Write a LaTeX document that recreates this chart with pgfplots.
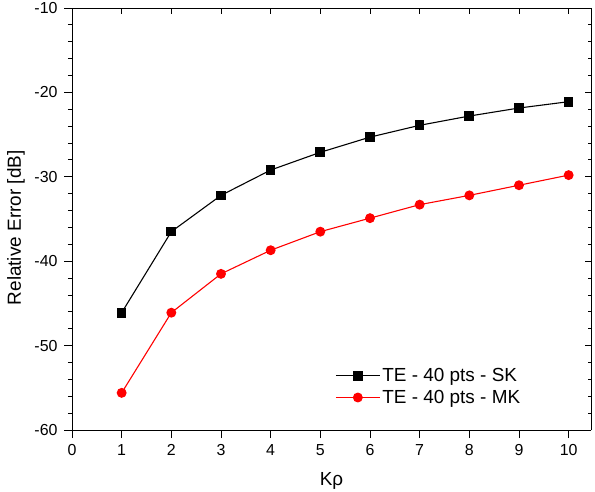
\documentclass[border=0pt]{standalone}
\usepackage{pgfplots}
\pgfplotsset{compat=1.18}
\usepackage{fontspec}
\setmainfont{Liberation Sans}
\pgfplotsset{
  common/.style={
    scale only axis,
    width=519bp, height=422bp,
    xmin=0, xmax=10.45, ymin=-60, ymax=-10,
    xtick={0,1,...,10}, ytick={-60,-50,...,-10},
    minor y tick num=4,
    major tick length=8bp, minor tick length=4bp,
    tick style={line width=0.9pt, black},
    axis line style={line width=0.9pt, -},
  }
}
\begin{document}
\begin{tikzpicture}
\begin{axis}[
  common,
  axis x line*=top, axis y line*=right,
  tick align=inside,
  xticklabels={}, yticklabels={},
  major tick length=6bp, minor tick length=3.5bp,
]
\end{axis}
\begin{axis}[
  common,
  axis x line*=bottom, axis y line*=left,
  tick align=outside,
  /pgf/number format/assume math mode=true,
  ticklabel style={font=\fontsize{16}{18}\selectfont},
  xticklabel style={yshift=-3bp},
  yticklabel style={xshift=-3bp},
  label style={font=\fontsize{19}{21}\selectfont},
  xlabel={Kρ}, ylabel={Relative Error [dB]},
  xlabel style={at={([yshift=-55bp]axis description cs:0.5,0)}, anchor=base},
  ylabel style={at={([xshift=-51bp]axis description cs:0,0.479)}, anchor=base},
  legend style={draw=none, fill=none, at={(0.505,0.052)}, anchor=south west, font=\fontsize{19}{21}\selectfont, row sep=3bp, inner sep=1bp},
  legend cell align=left,
  legend image code/.code={\draw[mark repeat=2,mark phase=2,#1] plot coordinates {(0bp,0bp) (22bp,0bp) (44bp,0bp)};},
]
\addplot[black, line width=1.1pt, mark=square*, mark size=4.3pt] coordinates {
(1,-46.1) (2,-36.5) (3,-32.2) (4,-29.2) (5,-27.1) (6,-25.3) (7,-23.9) (8,-22.8) (9,-21.85) (10,-21.1)};
\addlegendentry{TE - 40 pts - SK}
\addplot[red, line width=1.1pt, mark=*, mark size=4.4pt] coordinates {
(1,-55.6) (2,-46.1) (3,-41.5) (4,-38.7) (5,-36.5) (6,-34.9) (7,-33.3) (8,-32.2) (9,-31.0) (10,-29.8)};
\addlegendentry{TE - 40 pts - MK}
\end{axis}
\pgfresetboundingbox
\useasboundingbox (-72bp,-62bp) rectangle (523bp,430bp);
\end{tikzpicture}
\end{document}
